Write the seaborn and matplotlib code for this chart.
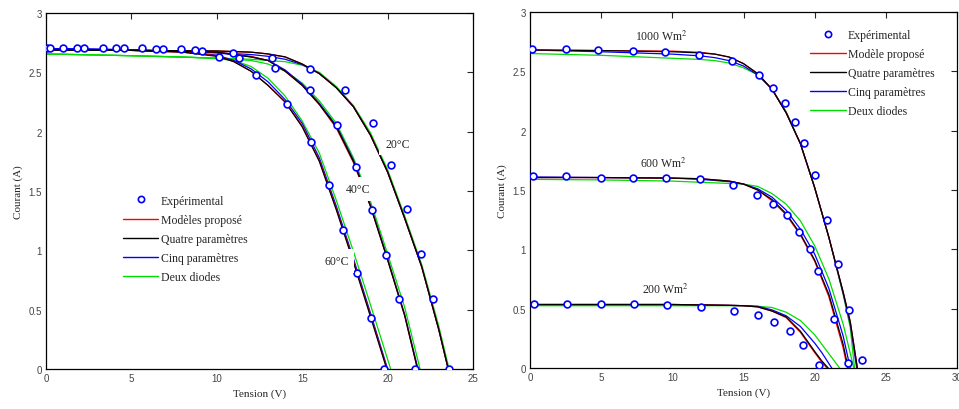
import numpy as np
import pandas as pd
import matplotlib
matplotlib.use("Agg")
import matplotlib.pyplot as plt
import seaborn as sns
from matplotlib.lines import Line2D

# ---- Courbes I-V : effet de la température (gauche) ----
MODELS = ["Modèle proposé", "Quatre paramètres", "Cinq paramètres", "Deux diodes"]
COLORS = ["#ff0000", "#000000", "#0000ff", "#00dd00"]

V60 = [0, 5, 8, 10, 11, 12, 13, 14, 15, 16, 17, 18, 19]
I60_red = [2.69, 2.685, 2.67, 2.64, 2.59, 2.51, 2.39, 2.25, 2.05, 1.76, 1.35, 0.91, 0.45]
I60_black = [2.69, 2.685, 2.67, 2.635, 2.59, 2.51, 2.39, 2.25, 2.04, 1.75, 1.34, 0.90, 0.44]
I60_blue = [2.70, 2.69, 2.675, 2.645, 2.60, 2.53, 2.42, 2.27, 2.07, 1.78, 1.37, 0.93, 0.47]
I60_green = [2.655, 2.64, 2.63, 2.615, 2.60, 2.55, 2.45, 2.30, 2.09, 1.82, 1.42, 0.99, 0.54]
VOC60 = [19.97, 19.95, 20.0, 20.18]

V40 = [0, 5, 10, 12, 13, 14, 15, 16, 17, 18, 19, 20, 21]
I40_red = [2.69, 2.685, 2.67, 2.635, 2.60, 2.51, 2.39, 2.23, 2.03, 1.74, 1.37, 0.92, 0.45]
I40_black = [2.69, 2.685, 2.67, 2.63, 2.60, 2.51, 2.39, 2.23, 2.04, 1.75, 1.37, 0.92, 0.45]
I40_blue = [2.70, 2.69, 2.665, 2.63, 2.60, 2.52, 2.40, 2.24, 2.05, 1.76, 1.38, 0.93, 0.46]
I40_green = [2.655, 2.64, 2.62, 2.60, 2.57, 2.51, 2.41, 2.26, 2.07, 1.78, 1.41, 0.97, 0.52]
VOC40 = [21.75, 21.75, 21.78, 21.9]

V20 = [0, 5, 10, 12, 13, 14, 15, 16, 17, 18, 19, 20, 21, 22, 23]
I20_red = [2.69, 2.685, 2.68, 2.67, 2.655, 2.63, 2.57, 2.49, 2.37, 2.21, 1.97, 1.66, 1.27, 0.86, 0.33]
I20_black = [2.69, 2.685, 2.68, 2.67, 2.655, 2.63, 2.57, 2.49, 2.37, 2.21, 1.97, 1.66, 1.27, 0.86, 0.33]
I20_blue = [2.70, 2.69, 2.665, 2.65, 2.635, 2.61, 2.565, 2.49, 2.37, 2.21, 1.97, 1.66, 1.27, 0.86, 0.33]
I20_green = [2.655, 2.64, 2.62, 2.61, 2.60, 2.59, 2.56, 2.50, 2.38, 2.22, 1.99, 1.68, 1.29, 0.88, 0.36]
VOC20 = [23.55, 23.55, 23.55, 23.6]

E60_V = [0.04, 1.8, 4.1, 6.44, 8.7, 10.15, 12.3, 14.1, 15.5, 16.55, 17.37, 18.23, 19.0, 19.79]
E60_I = [2.705, 2.705, 2.705, 2.70, 2.685, 2.63, 2.48, 2.23, 1.91, 1.55, 1.17, 0.81, 0.43, 0.0]
E40_V = [0.23, 2.23, 4.57, 6.83, 9.13, 11.28, 13.43, 15.46, 17.06, 18.15, 19.09, 19.9, 20.69, 21.58]
E40_I = [2.705, 2.705, 2.705, 2.70, 2.68, 2.62, 2.54, 2.35, 2.06, 1.70, 1.34, 0.96, 0.59, 0.0]
E20_V = [0.98, 3.32, 5.62, 7.88, 10.93, 13.23, 15.46, 17.52, 19.13, 20.22, 21.12, 21.97, 22.68, 23.6]
E20_I = [2.705, 2.705, 2.705, 2.70, 2.66, 2.62, 2.53, 2.35, 2.07, 1.72, 1.35, 0.97, 0.59, 0.0]

# ---- Courbes I-V : effet de l'éclairement (droite) ----
V1000 = [0, 5, 10, 12, 13, 14, 15, 16, 17, 18, 19, 20, 21, 22, 22.5]
I1000_red = [2.68, 2.675, 2.67, 2.66, 2.645, 2.62, 2.565, 2.48, 2.35, 2.15, 1.89, 1.52, 1.10, 0.64, 0.39]
I1000_black = [2.68, 2.675, 2.665, 2.655, 2.645, 2.62, 2.565, 2.48, 2.35, 2.15, 1.89, 1.52, 1.10, 0.64, 0.39]
I1000_blue = [2.68, 2.665, 2.645, 2.63, 2.615, 2.59, 2.545, 2.47, 2.35, 2.15, 1.89, 1.52, 1.10, 0.63, 0.37]
I1000_green = [2.65, 2.635, 2.61, 2.60, 2.59, 2.57, 2.53, 2.47, 2.35, 2.16, 1.89, 1.52, 1.10, 0.62, 0.34]
VOC1000 = [23.0, 23.0, 22.95, 22.8]

V600 = [0, 5, 10, 12, 14, 15, 16, 17, 18, 19, 20, 21, 22]
I600_red = [1.605, 1.605, 1.60, 1.595, 1.575, 1.55, 1.50, 1.41, 1.29, 1.12, 0.90, 0.60, 0.17]
I600_black = [1.605, 1.605, 1.60, 1.595, 1.575, 1.55, 1.50, 1.42, 1.30, 1.13, 0.91, 0.62, 0.20]
I600_blue = [1.61, 1.605, 1.60, 1.59, 1.57, 1.55, 1.51, 1.44, 1.33, 1.17, 0.96, 0.67, 0.27]
I600_green = [1.59, 1.585, 1.575, 1.565, 1.555, 1.55, 1.53, 1.47, 1.38, 1.24, 1.03, 0.75, 0.37]
VOC600 = [22.3, 22.35, 22.5, 22.75]

V200 = [0, 5, 10, 12, 14, 15, 16, 17, 18, 19, 20, 20.5]
I200_red = [0.535, 0.535, 0.535, 0.532, 0.528, 0.525, 0.515, 0.48, 0.425, 0.30, 0.13, 0.05]
I200_black = [0.535, 0.535, 0.535, 0.532, 0.528, 0.525, 0.515, 0.48, 0.43, 0.31, 0.14, 0.06]
I200_blue = [0.535, 0.535, 0.535, 0.532, 0.528, 0.525, 0.52, 0.49, 0.44, 0.35, 0.21, 0.13]
I200_green = [0.525, 0.525, 0.525, 0.525, 0.525, 0.525, 0.52, 0.51, 0.47, 0.40, 0.28, 0.20]
VOC200 = [20.85, 20.95, 21.2, 21.75]

E1000_V = [0.12, 2.53, 4.8, 7.21, 9.51, 11.9, 14.17, 16.11, 17.1, 17.94, 18.64, 19.27, 20.02, 20.84, 21.64, 22.44, 23.3]
E1000_I = [2.685, 2.685, 2.68, 2.67, 2.66, 2.64, 2.59, 2.47, 2.36, 2.23, 2.07, 1.90, 1.63, 1.25, 0.88, 0.49, 0.065]
E600_V = [0.23, 2.53, 4.96, 7.21, 9.56, 11.94, 14.29, 15.93, 17.05, 18.03, 18.92, 19.67, 20.21, 21.38, 22.32]
E600_I = [1.615, 1.615, 1.60, 1.60, 1.60, 1.59, 1.54, 1.46, 1.38, 1.29, 1.15, 1.00, 0.82, 0.41, 0.045]
E200_V = [0.28, 2.62, 5.01, 7.31, 9.65, 11.99, 14.33, 16.04, 17.14, 18.27, 19.2, 20.28]
E200_I = [0.54, 0.537, 0.537, 0.537, 0.534, 0.514, 0.48, 0.444, 0.388, 0.312, 0.197, 0.028]


def courbes(groupes):
    """Construit un DataFrame long (V, I, modèle, groupe) à partir des listes."""
    rows = []
    for nom, v, currents, vocs in groupes:
        for model, cur, voc in zip(MODELS, currents, vocs):
            for vi, ii in zip(list(v) + [voc], list(cur) + [0.0]):
                rows.append({"V": vi, "I": ii, "model": model, "groupe": nom})
    return pd.DataFrame(rows)


df_temp = courbes([
    ("60", V60, [I60_red, I60_black, I60_blue, I60_green], VOC60),
    ("40", V40, [I40_red, I40_black, I40_blue, I40_green], VOC40),
    ("20", V20, [I20_red, I20_black, I20_blue, I20_green], VOC20),
])
df_irr = courbes([
    ("1000", V1000, [I1000_red, I1000_black, I1000_blue, I1000_green], VOC1000),
    ("600", V600, [I600_red, I600_black, I600_blue, I600_green], VOC600),
    ("200", V200, [I200_red, I200_black, I200_blue, I200_green], VOC200),
])
exp_temp = pd.DataFrame({"V": E60_V + E40_V + E20_V, "I": E60_I + E40_I + E20_I})
exp_irr = pd.DataFrame({"V": E1000_V + E600_V + E200_V, "I": E1000_I + E600_I + E200_I})

sns.set_style("white")
plt.rcParams["font.family"] = ["Liberation Serif", "DejaVu Serif"]
plt.rcParams["mathtext.fontset"] = "stix"

fig = plt.figure(figsize=(9.59, 4.10), dpi=100)
ax1 = fig.add_axes([46 / 959, 40 / 410, 427 / 959, 356 / 410])
ax2 = fig.add_axes([530 / 959, 41 / 410, 427 / 959, 356 / 410])

palette = dict(zip(MODELS, COLORS))
# le noir est tracé en dernier : il domine dans la figure d'origine
draw_order = ["Deux diodes", "Cinq paramètres", "Modèle proposé", "Quatre paramètres"]

for ax, df, ex in [(ax1, df_temp, exp_temp), (ax2, df_irr, exp_irr)]:
    sns.lineplot(data=df, x="V", y="I", hue="model", hue_order=draw_order,
                 units="groupe", estimator=None, sort=False, palette=palette,
                 linewidth=0.9, legend=False, ax=ax)
    sns.scatterplot(data=ex, x="V", y="I", marker="o", s=24, color="white",
                    edgecolor="#0000ff", linewidth=1.2, zorder=4, legend=False, ax=ax)
    ax.set_ylim(0, 3)
    ax.set_yticks([0, 0.5, 1, 1.5, 2, 2.5, 3])
    ax.set_yticklabels(["0", "0.5", "1", "1.5", "2", "2.5", "3"])
    ax.tick_params(direction="in", length=4, width=0.8, top=True, right=True,
                   labelsize=7, labelcolor="#444444", pad=3)
    for lab in ax.get_xticklabels() + ax.get_yticklabels():
        lab.set_family(["Liberation Sans", "DejaVu Sans"])
    for sp in ax.spines.values():
        sp.set_color("black")
        sp.set_linewidth(0.9)
    ax.set_xlabel("Tension (V)", fontsize=8, labelpad=4)
    ax.set_ylabel("Courant (A)", fontsize=8, labelpad=4)

ax1.set_xlim(0, 25)
ax1.set_xticks([0, 5, 10, 15, 20, 25])
ax2.set_xlim(0, 30)
ax2.set_xticks([0, 5, 10, 15, 20, 25, 30])

# étiquettes des courbes
box = dict(boxstyle="square,pad=0.5", fc="white", ec="none")
ax1.text(19.85, 1.90, "20°C", fontsize=8.5, va="center", ha="left", zorder=6, bbox=box)
ax1.text(17.56, 1.52, "40°C", fontsize=8.5, va="center", ha="left", zorder=6, bbox=box)
ax1.text(16.28, 0.91, "60°C", fontsize=8.5, va="center", ha="left", zorder=6, bbox=box)
ax2.text(7.4, 2.80, "1000 Wm$^2$", fontsize=8.5, va="center", ha="left", zorder=6)
ax2.text(7.7, 1.73, "600 Wm$^2$", fontsize=8.5, va="center", ha="left", zorder=6)
ax2.text(7.9, 0.67, "200 Wm$^2$", fontsize=8.5, va="center", ha="left", zorder=6)


def handles():
    h = [Line2D([], [], ls="none", marker="o", ms=4.5, mfc="white", mec="#0000ff", mew=1.2)]
    h += [Line2D([], [], color=c, lw=1.0) for c in COLORS]
    return h


leg_kw = dict(frameon=False, fontsize=8.5, handlelength=3.0, handletextpad=0.2,
              labelspacing=0.6, borderpad=0, borderaxespad=0, loc="upper left")
ax1.legend(handles(), ["Expérimental", "Modèles proposé", "Quatre paramètres",
                       "Cinq paramètres", "Deux diodes"],
           bbox_to_anchor=(0.18, 0.49), **leg_kw)
ax2.legend(handles(), ["Expérimental", "Modèle proposé", "Quatre paramètres",
                       "Cinq paramètres", "Deux diodes"],
           bbox_to_anchor=(0.656, 0.952), **leg_kw)

fig.savefig("out.png", dpi=100, facecolor="white")
